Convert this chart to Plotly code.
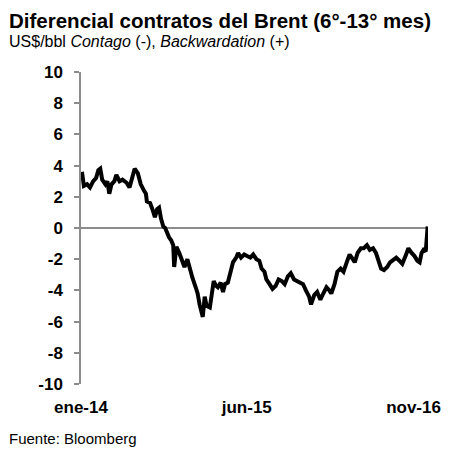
import plotly.graph_objects as go

dates = [
    "2014-01-04", "2014-01-10", "2014-01-20", "2014-01-29", "2014-02-08", "2014-02-17", "2014-02-24",
    "2014-03-02", "2014-03-08", "2014-03-18", "2014-03-24", "2014-03-30", "2014-04-06", "2014-04-15",
    "2014-04-21", "2014-05-01", "2014-05-10", "2014-05-23", "2014-06-01", "2014-06-11", "2014-06-17",
    "2014-06-27", "2014-07-06", "2014-07-16", "2014-07-22", "2014-07-25", "2014-08-04", "2014-08-13",
    "2014-08-19", "2014-08-26", "2014-09-01", "2014-09-07", "2014-09-14", "2014-09-20", "2014-09-26",
    "2014-10-02", "2014-10-09", "2014-10-15", "2014-10-18", "2014-10-25", "2014-11-03", "2014-11-13",
    "2014-11-19", "2014-11-28", "2014-12-05", "2014-12-14", "2014-12-24", "2014-12-30", "2015-01-05",
    "2015-01-15", "2015-01-21", "2015-01-27", "2015-02-06", "2015-02-12", "2015-02-18", "2015-02-25",
    "2015-03-03", "2015-03-12", "2015-03-19", "2015-03-25", "2015-04-03", "2015-04-13", "2015-04-19",
    "2015-04-29", "2015-05-05", "2015-05-14", "2015-05-24", "2015-06-02", "2015-06-12", "2015-06-21",
    "2015-07-01", "2015-07-10", "2015-07-17", "2015-07-26", "2015-08-01", "2015-08-11", "2015-08-20",
    "2015-08-30", "2015-09-08", "2015-09-18", "2015-09-27", "2015-10-07", "2015-10-16", "2015-10-26",
    "2015-11-04", "2015-11-13", "2015-11-23", "2015-12-02", "2015-12-12", "2015-12-18", "2015-12-28",
    "2016-01-06", "2016-01-16", "2016-01-25", "2016-02-04", "2016-02-13", "2016-02-19", "2016-02-29",
    "2016-03-09", "2016-03-19", "2016-03-28", "2016-04-07", "2016-04-16", "2016-04-26", "2016-05-02",
    "2016-05-11", "2016-05-21", "2016-05-30", "2016-06-09", "2016-06-18", "2016-06-28", "2016-07-07",
    "2016-07-17", "2016-07-23", "2016-08-01", "2016-08-11", "2016-08-20", "2016-08-30", "2016-09-08",
    "2016-09-18", "2016-09-27", "2016-10-07", "2016-10-16", "2016-10-26", "2016-11-04", "2016-11-13",
    "2016-11-20", "2016-11-26", "2016-12-02", "2016-12-09", "2016-12-12", "2016-12-15",
]

spread = [
    3.6, 2.7, 2.8, 2.6, 3.0, 3.2, 3.7,
    3.8, 3.1, 2.8, 3.0, 2.2, 2.8, 3.0,
    3.4, 3.0, 3.1, 2.9, 2.6, 3.3, 3.8,
    3.5, 2.8, 2.4, 2.2, 1.7, 1.6, 1.1,
    0.7, 1.2, 1.3, 0.6, 0.1, 0.0, -0.4,
    -0.6, -0.8, -1.1, -2.5, -1.2, -1.6, -2.2,
    -2.5, -2.0, -2.6, -3.2, -3.8, -4.2, -4.9,
    -5.7, -4.4, -5.0, -5.1, -4.2, -3.4, -3.7,
    -3.8, -3.5, -4.1, -3.6, -3.5, -2.7, -2.2,
    -1.9, -1.6, -1.9, -1.7, -1.8, -1.9, -1.7,
    -2.0, -2.1, -2.6, -2.8, -3.3, -3.6, -3.9,
    -3.7, -3.3, -3.4, -3.6, -3.1, -2.9, -3.3,
    -3.4, -3.5, -3.6, -4.0, -4.4, -4.9, -4.3,
    -4.1, -4.6, -4.2, -3.8, -4.0, -4.2, -3.6,
    -2.8, -2.6, -2.8, -2.2, -1.7, -2.0, -2.2,
    -1.6, -1.3, -1.3, -1.1, -1.4, -1.3, -1.6,
    -2.3, -2.6, -2.7, -2.5, -2.2, -2.0, -1.9,
    -2.1, -2.3, -1.8, -1.3, -1.6, -1.8, -2.1,
    -2.2, -1.6, -1.4, -1.5, -0.9, 0.1,
]

tick_dates = ["2014-01-01", "2015-06-01", "2016-11-01"]
tick_labels = ["ene-14", "jun-15", "nov-16"]
y_ticks = [10, 8, 6, 4, 2, 0, -2, -4, -6, -8, -10]
y_tick_labels = ["10", "8", "6", "4", "2", "0", "-2", "-4", "-6", "-8", "-10"]

FONT = "Liberation Sans, Arial, sans-serif"

fig = go.Figure()
fig.add_trace(go.Scatter(
    x=dates, y=spread, mode="lines",
    line=dict(color="black", width=4, shape="linear"),
    showlegend=False, hoverinfo="skip",
))

fig.update_layout(
    width=445, height=441,
    margin=dict(l=73, r=22, t=64, b=65),
    paper_bgcolor="white", plot_bgcolor="white",
    font=dict(family=FONT, color="black"),
    xaxis=dict(
        range=["2014-01-01", "2016-12-16"],
        tickvals=tick_dates, ticktext=tick_labels,
        showgrid=False, showline=False, zeroline=False,
        ticks="outside", ticklen=8, tickcolor="rgba(0,0,0,0)",
        tickfont=dict(family=FONT, size=17, color="black", weight="bold"),
    ),
    yaxis=dict(
        range=[-10, 10], tickvals=y_ticks, ticktext=y_tick_labels,
        showgrid=False, showline=True, linecolor="#8c8c8c", linewidth=1.5,
        zeroline=True, zerolinecolor="#8c8c8c", zerolinewidth=1.5,
        ticks="outside", ticklen=5, tickcolor="#8c8c8c", tickwidth=1.5,
        ticklabelstandoff=8,
        tickfont=dict(family=FONT, size=17, color="black", weight="bold"),
    ),
    annotations=[
        dict(text="<b>Diferencial contratos del Brent (6°-13° mes)</b>",
             xref="paper", yref="paper", x=-0.2135, y=(384 - 21) / 312,
             xanchor="left", yanchor="middle", showarrow=False,
             font=dict(family=FONT, size=20.5, color="black")),
        dict(text="US$/bbl <i>Contago</i> (-), <i>Backwardation</i> (+)",
             xref="paper", yref="paper", x=-0.2135, y=(384 - 42) / 312,
             xanchor="left", yanchor="middle", showarrow=False,
             font=dict(family=FONT, size=16, color="black")),
        dict(text="Fuente: Bloomberg",
             xref="paper", yref="paper", x=-0.2135, y=(384 - 438) / 312,
             xanchor="left", yanchor="middle", showarrow=False,
             font=dict(family=FONT, size=15, color="black")),
    ],
)

fig.write_html("out.html")
